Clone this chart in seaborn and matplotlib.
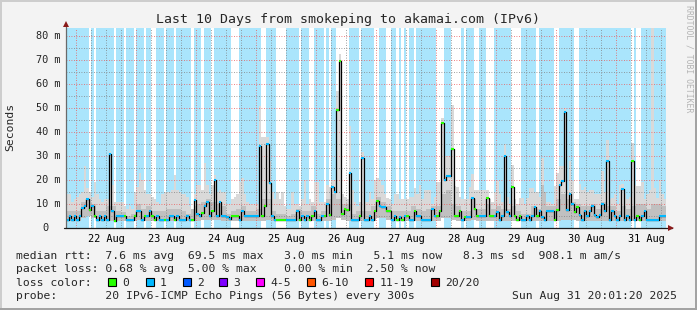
import numpy as np
import matplotlib
matplotlib.use("Agg")
import matplotlib.pyplot as plt
import seaborn as sns
from matplotlib.patches import Rectangle
from matplotlib.transforms import blended_transform_factory, ScaledTranslation

# ---------------- data ----------------
title = "Last 10 Days from smokeping to akamai.com (IPv6)"
date_labels = ["22 Aug", "23 Aug", "24 Aug", "25 Aug", "26 Aug",
               "27 Aug", "28 Aug", "29 Aug", "30 Aug", "31 Aug"]
date_noon_hours = [16, 40, 64, 88, 112, 136, 160, 184, 208, 232]   # hours after 21 Aug 20:00
day_start_hours = [4, 28, 52, 76, 100, 124, 148, 172, 196, 220]
y_tick_values = [0, 10, 20, 30, 40, 50, 60, 70, 80]
y_tick_labels = ["0", "10 m", "20 m", "30 m", "40 m", "50 m", "60 m", "70 m", "80 m"]

# hourly median rtt (ms), 240 hours
median_ms = [
    3.5, 5, 3.3, 5, 3.3, 5, 8.3, 9, 12, 7.6, 9, 5,
    3.3, 5, 3.3, 5, 3.3, 30.7, 7, 3, 5, 5, 5, 5,
    3.3, 3.3, 3.3, 5, 7, 7, 3.3, 5, 5, 7, 5, 3.3,
    5, 3.3, 3.3, 3.3, 3.3, 5, 5, 3.3, 5, 3.3, 3.3, 3.3,
    5, 3.3, 3.3, 11.8, 6, 5, 6.2, 9.3, 10.7, 5, 7, 20,
    5, 10.7, 5, 5, 4.5, 3.8, 5, 5, 5, 3.3, 7, 5,
    5, 5, 5, 5, 5, 34, 5, 9, 35, 18.6, 5, 3.2,
    3.2, 3.2, 3.2, 3.2, 3.2, 3.2, 3.2, 3.2, 7, 3.2, 5, 3.2,
    5, 3.2, 5, 7, 3.2, 3.2, 5, 5, 10, 5.5, 17, 15,
    49, 69.5, 6, 8, 7.6, 23, 3.5, 3.5, 3.5, 5, 29, 3.5,
    3.2, 5, 3.2, 7, 11.4, 9.3, 8.7, 8.7, 7, 7, 3.2, 5,
    3.2, 4.5, 3.2, 5, 5, 3.2, 3.2, 7, 5, 5, 3.2, 3.2,
    3.2, 3.2, 8, 5, 5, 7, 43.7, 20, 21.5, 21.5, 33, 5,
    5, 7, 3.2, 4.6, 4.6, 4.6, 12.6, 8, 5, 5, 5, 5,
    12.4, 5, 5, 5, 6.8, 3.2, 5, 30, 6.8, 5, 17, 5,
    3.2, 5, 3.2, 3.2, 5, 3.2, 5, 8.7, 5, 7, 4.6, 3.2,
    7, 7, 7, 3.2, 7.5, 18, 19.7, 48.3, 7.6, 14.3, 10, 6.8,
    8.7, 5.5, 3.2, 7, 5, 7, 9, 5.5, 4.6, 5.5, 10, 7,
    28, 3.2, 7, 5, 3.2, 5, 16.4, 3.2, 5, 3.2, 28, 3.2,
    5, 3.2, 5, 7, 3.2, 3.2, 3.2, 3.2, 3.2, 5, 5, 5,
]

# hourly lost pings (of 20), one row per day
loss_pings = [
    1,1,1,1,1,1,1,1,1,0,1,0,1,1,1,1,1,1,1,0,1,1,1,0,
    1,1,1,0,1,1,1,0,1,1,0,0,1,1,1,0,1,1,1,0,1,1,1,1,
    1,1,0,1,1,1,0,1,1,1,0,1,1,1,1,1,1,1,0,0,0,1,1,1,
    1,1,1,1,1,1,0,0,1,1,1,1,0,0,0,0,1,1,1,1,1,0,1,1,
    1,0,0,1,1,1,1,0,1,0,1,1,0,0,0,0,0,1,1,1,1,0,1,1,
    1,1,1,0,0,1,1,1,0,0,1,1,0,1,0,1,0,1,1,0,1,1,1,1,
    1,1,1,1,0,0,0,1,1,1,0,0,0,0,1,0,1,1,1,0,0,1,1,1,
    0,0,0,1,1,1,1,1,1,1,0,0,0,0,1,1,1,1,1,1,0,1,1,1,
    1,1,1,0,0,1,1,1,1,1,1,0,0,1,1,1,1,1,1,1,1,1,1,1,
    1,1,1,1,1,1,1,1,1,1,0,1,0,0,1,1,1,1,1,1,1,1,1,1,
]

# hourly slowest ping (ms)
ping_max_ms = [
    14, 14, 11, 12, 13, 14, 15, 25.7, 16.7, 15, 13, 19,
    14, 12, 11, 12, 12, 32, 18, 11, 11, 11, 11, 9,
    8, 9, 8, 15, 17, 23, 20, 16, 14, 14, 13, 12,
    11, 10, 14, 15, 15, 15, 16, 22, 16, 15, 14, 14,
    13, 9, 8, 14, 18, 18, 16, 27, 18, 14, 18, 22,
    15, 16, 15, 15, 10, 10, 12, 13, 14, 19, 21, 14,
    11, 10, 10, 10, 10, 51, 38, 38, 38, 28, 15, 12,
    15, 12, 15, 9, 8, 8, 15, 10, 10, 9, 12, 20,
    10, 12, 11, 19, 19, 11, 11, 11, 18, 17, 20, 20,
    57, 72.5, 14, 13, 12, 42.6, 16, 11, 9, 11, 31.6, 11,
    11, 15, 12, 20, 20.8, 20, 18, 14, 12.5, 12, 10, 14,
    14, 12, 12, 12, 12, 13, 13, 16.7, 14, 18, 12, 16,
    16, 16, 10, 13, 19, 19, 45.8, 30, 30, 30, 51.4, 17.4,
    17, 13, 12, 12, 12, 17, 22.6, 16, 16, 15.8, 15.8, 15.8,
    16, 12, 11, 15, 19.4, 14, 11, 35, 13, 10, 26.4, 12,
    10, 12.5, 12.5, 10, 12.5, 16.7, 16.7, 15, 15, 13, 29, 14.8,
    11, 11, 10, 17.5, 23, 25.8, 26, 50, 16, 27.8, 19.7, 12,
    12, 18.3, 16, 17.2, 15, 16, 16, 14, 14, 14, 23.6, 15,
    36.8, 12, 12.5, 14, 10, 18, 18.5, 14, 12, 13, 35.4, 18,
    17.4, 17.4, 19.2, 12, 14, 16, 100, 16.7, 12.5, 20, 14, 12,
]

# two-hourly fastest ping (ms)
ping_min_ms = [
    2.8, 2.8, 2.8, 4, 5, 4, 2.8, 2.8, 2.8, 2.8, 2.8, 2.8,
    2.8, 2.8, 3.5, 2.8, 2.8, 2.8, 2.8, 2.8, 2.8, 2.8, 2.8, 2.8,
    2.8, 2.8, 3, 3.5, 3.5, 3.5, 3.5, 3, 2.8, 2.8, 2.8, 3,
    3, 3, 3, 3, 3.5, 2.8, 2.8, 2.8, 2.8, 2.8, 2.8, 2.8,
    2.8, 2.8, 2.8, 2.8, 3, 3.5, 4, 3.5, 3, 2.8, 2.8, 2.8,
    2.8, 2.8, 4, 4, 3.5, 2.8, 2.8, 2.8, 2.8, 2.8, 2.8, 2.8,
    2.8, 3, 3, 4, 4, 3.5, 3, 2.8, 2.8, 3.5, 3, 3,
    3, 3, 2.8, 2.8, 2.8, 2.8, 2.8, 2.8, 2.8, 2.8, 2.8, 2.8,
    3, 3, 3, 3.5, 3.5, 3.5, 3, 2.8, 2.8, 2.8, 2.8, 3,
    3, 2.8, 2.8, 2.8, 2.8, 2.8, 2.8, 2.8, 2.8, 2.8, 2.8, 2.8,
]

# two-hourly top of the dense (darker) part of the ping spread (ms)
ping_dense_ms = [
    7, 7, 7, 11, 12, 10, 7, 7, 9, 9, 7, 6.5,
    5, 6, 10, 8, 9, 7, 7, 7, 8, 8, 8, 7,
    6, 9, 10, 11, 12, 11, 10, 9, 6, 7, 8, 9,
    7, 7, 8, 12, 12, 7, 6, 6, 5, 6, 8, 7,
    7, 9, 6, 7, 12, 14, 12, 10, 10, 6, 7, 7,
    7, 9, 13, 11, 9, 7, 7, 7, 7, 9, 8, 7,
    8, 9, 9, 14, 16, 10, 9, 7, 7, 12, 8, 8,
    10, 8, 9, 8, 8, 9, 7, 6, 6, 9, 8, 18,
    9, 9, 12, 14, 12, 11, 10, 9, 9, 10, 8, 11,
    9, 9, 7, 9, 8, 9, 10, 10, 8, 10, 10, 9,
]

loss_color_labels = ["0", "1", "2", "3", "4-5", "6-10", "11-19", "20/20"]
loss_colors = ["#26ff00", "#00b8ff", "#0059ff", "#7e00ff",
               "#ff00ff", "#ff5500", "#ff0000", "#a10000"]
loss_upper = [0, 1, 2, 3, 5, 10, 19, 20]

legend_lines = [
    "median rtt:  7.6 ms avg  69.5 ms max   3.0 ms min   5.1 ms now   8.3 ms sd  908.1 m am/s",
    "packet loss: 0.68 % avg  5.00 % max    0.00 % min  2.50 % now",
    "loss color:",
    "probe:       20 IPv6-ICMP Echo Pings (56 Bytes) every 300s",
]
stamp = "Sun Aug 31 20:01:20 2025"
watermark = "RRDTOOL / TOBI OETIKER"

# ---------------- styling ----------------
sns.set_theme(style="white")
MONO = ["DejaVu Sans Mono", "DejaVu Sans"]
plt.rcParams["font.family"] = MONO

W, H = 697, 310
BG = "#f3f3f3"
LOSS_BG = "#aae5fc"

def fx(x):
    return x / W

def fy(y):
    return 1 - y / H

fig = plt.figure(figsize=(W / 100, H / 100), dpi=100, facecolor=BG)

# plot area: x 66..666 px, y 28..228 px
ax = fig.add_axes([fx(66), fy(228), 600 / W, 200 / H])
ax.set_facecolor("white")
TOP = 200 / 2.4

n = len(median_ms)
assert n == 240 and len(loss_pings) == 240 and len(ping_max_ms) == 240
assert len(ping_min_ms) == 120 and len(ping_dense_ms) == 120

hours = np.arange(n + 1)
med = np.array(median_ms, dtype=float)
loss = np.array(loss_pings)
hi = np.array(ping_max_ms, dtype=float)
lo = np.minimum(np.repeat(ping_min_ms, 2).astype(float), med)
dense = np.clip(np.repeat(ping_dense_ms, 2).astype(float), lo, hi)

def ext(a):
    return np.r_[a, a[-1]]

# loss background
bg = np.where(ext(loss) > 0, TOP, 0.0)
ax.fill_between(hours, 0, bg, step="post", color=LOSS_BG, lw=0, zorder=0.5)

# smoke
ax.fill_between(hours, ext(lo), ext(hi), step="post", color="#d9d9d9", lw=0, zorder=0.8)
ax.fill_between(hours, ext(lo), ext(dense), step="post", color="#c0c0c0", lw=0, zorder=0.9)

# median line
sns.lineplot(x=hours, y=ext(med), drawstyle="steps-post", color="black",
             lw=0.9, ax=ax, estimator=None, sort=False, zorder=3)

def loss_col(c):
    for up, col in zip(loss_upper, loss_colors):
        if c <= up:
            return col
    return loss_colors[-1]

seg_cols = [loss_col(c) for c in loss]
ax.hlines(med, hours[:-1], hours[1:], colors=seg_cols, lw=1.5, zorder=4)

ax.set_xlim(0, n)
ax.set_ylim(0, TOP)
ax.set_xlabel("")
ax.set_ylabel("")

# grid
ax.set_xticks(day_start_hours)
ax.set_xticks([h for h in range(4, n, 6) if h not in day_start_hours], minor=True)
ax.set_yticks(y_tick_values)
ax.set_yticks([v + 5 for v in y_tick_values[:-1]], minor=True)
ax.set_axisbelow("line")
ax.grid(which="major", color=(0.92, 0.35, 0.35, 0.45), linestyle=(0, (1, 2)), lw=0.6)
ax.grid(which="minor", color=(0.5, 0.5, 0.5, 0.35), linestyle=(0, (1, 2)), lw=0.6)
ax.tick_params(which="both", labelbottom=False, labelleft=False)
ax.tick_params(axis="x", which="major", length=2, width=0.7, color="#505050", direction="out")
ax.tick_params(axis="x", which="minor", length=0)
ax.tick_params(axis="y", which="major", length=2, width=0.7, color="#808080", direction="out")
ax.tick_params(axis="y", which="minor", length=0)
for s in ax.spines.values():
    s.set_visible(False)

# axis lines and arrows
ax.plot([0, 0], [0, 1.02], transform=ax.transAxes, color="#6a6a6a", lw=0.9,
        clip_on=False, zorder=6)
ax.plot([-0.004, 1.01], [0, 0], transform=ax.transAxes, color="#1a1a1a", lw=0.9,
        clip_on=False, zorder=6)
ax.plot([0], [1.019], transform=ax.transAxes, marker="^", ms=4, color="#8b1a1a",
        clip_on=False, zorder=7, mew=0)
ax.plot([1.009], [0], transform=ax.transAxes, marker=">", ms=4, color="#8b1a1a",
        clip_on=False, zorder=7, mew=0)

AX_FS = 7.4
LEG_FS = 8.2

# date labels
for h, lab in zip(date_noon_hours, date_labels):
    ax.text(h, (228 - 242.5) / 200, lab, transform=blended_transform_factory(ax.transData, ax.transAxes),
            ha="center", va="baseline", fontsize=AX_FS, color="black", family=MONO)

# y labels
ytr = blended_transform_factory(fig.transFigure, ax.transData) + \
    ScaledTranslation(0, -3.4 / 100, fig.dpi_scale_trans)
char_w = 0.602 * AX_FS * 100 / 72
for v, lab in zip(y_tick_values, y_tick_labels):
    if len(lab) < 4:
        ax.text(fx(60.5 - 3 * char_w), v, lab, transform=ytr, ha="left", va="baseline",
                fontsize=AX_FS, family=MONO, clip_on=False)
    else:
        ax.text(fx(60.5), v, lab, transform=ytr, ha="right", va="baseline",
                fontsize=AX_FS, family=MONO, clip_on=False)

# titles and unit
fig.text(fx(347.5), fy(23), title, ha="center", va="baseline", fontsize=9.5, family=MONO)
fig.text(fx(10), fy(127), "Seconds", rotation=90, ha="center", va="center",
         fontsize=LEG_FS, family=MONO)
fig.text(fx(688.5), fy(59), watermark, rotation=270, ha="center", va="center",
         fontsize=5.9, family=MONO, color="#b4b4b4")

# legend text
baselines = [259, 272.3, 285.6, 298.8]
for line, yb in zip(legend_lines, baselines):
    fig.text(fx(15.5), fy(yb), line, ha="left", va="baseline", fontsize=LEG_FS, family=MONO)
fig.text(fx(512.5), fy(baselines[3]), stamp, ha="left", va="baseline",
         fontsize=LEG_FS, family=MONO)

box_left = [108.3, 145.7, 182.7, 219.3, 256.0, 306.7, 365.3, 430.7]
for bx, col, lab in zip(box_left, loss_colors, loss_color_labels):
    fig.add_artist(Rectangle((fx(bx), fy(286.3)), 8 / W, 8.5 / H, transform=fig.transFigure,
                             facecolor=col, edgecolor="black", lw=0.8))
    fig.text(fx(bx + 14.3), fy(baselines[2]), lab, ha="left", va="baseline",
             fontsize=LEG_FS, family=MONO)

# frame
fig.add_artist(Rectangle((0, fy(2)), 1, 2 / H, transform=fig.transFigure, color="#cdcdcd", lw=0))
fig.add_artist(Rectangle((0, 0), 2 / W, 1, transform=fig.transFigure, color="#cdcdcd", lw=0))
fig.add_artist(Rectangle((0, 0), 1, 2 / H, transform=fig.transFigure, color="#a3a3a3", lw=0))
fig.add_artist(Rectangle((fx(695), 0), 2 / W, 1, transform=fig.transFigure, color="#a3a3a3", lw=0))

fig.savefig("out.png", dpi=100, facecolor=BG)
